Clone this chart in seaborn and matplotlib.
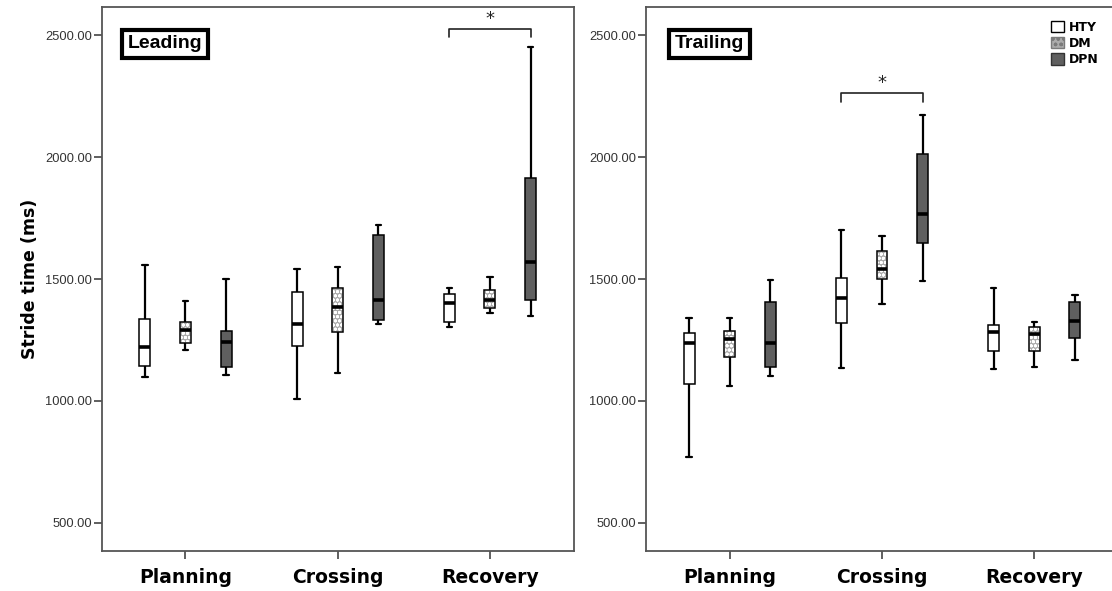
import numpy as np
import pandas as pd
import seaborn as sns
import matplotlib.pyplot as plt
from matplotlib.patches import Patch, PathPatch

phases = ['Planning', 'Crossing', 'Recovery']
groups = ['HTY', 'DM', 'DPN']
yticks = [500, 1000, 1500, 2000, 2500]

# five-number summaries in ms (whisker low, Q1, median, Q3, whisker high),
# order: Planning HTY/DM/DPN, Crossing HTY/DM/DPN, Recovery HTY/DM/DPN
leading_low = [1097, 1210, 1107, 1008, 1113, 1316, 1305, 1359, 1348]
leading_q1 = [1145, 1236, 1139, 1227, 1283, 1333, 1322, 1380, 1414]
leading_med = [1220, 1291, 1241, 1314, 1385, 1414, 1400, 1415, 1568]
leading_q3 = [1336, 1324, 1287, 1445, 1464, 1680, 1437, 1455, 1913]
leading_high = [1557, 1411, 1501, 1540, 1550, 1722, 1464, 1507, 2452]

trailing_low = [769, 1061, 1102, 1134, 1396, 1492, 1130, 1138, 1168]
trailing_q1 = [1068, 1182, 1141, 1321, 1499, 1649, 1206, 1206, 1260]
trailing_med = [1238, 1254, 1236, 1421, 1541, 1765, 1283, 1273, 1327]
trailing_q3 = [1277, 1287, 1407, 1505, 1616, 2011, 1311, 1302, 1407]
trailing_high = [1339, 1339, 1496, 1700, 1675, 2172, 1462, 1322, 1434]

# significance brackets: (phase, bar height, end height, star height)
leading_sig = ('Recovery', 2525, 2492, 2566)
trailing_sig = ('Crossing', 2262, 2225, 2303)

dm_fill = '#ababab'
group_fill = {'HTY': 'white', 'DM': dm_fill, 'DPN': '#5f5f5f'}


def long_table(low, q1, med, q3, high):
    rows = []
    i = 0
    for ph in phases:
        for g in groups:
            for v in (low[i], q1[i], med[i], q3[i], high[i]):
                rows.append({'phase': ph, 'group': g, 'ms': v})
            i += 1
    return pd.DataFrame(rows)


def draw_panel(ax, df, title, sig):
    sns.boxplot(data=df, x='phase', y='ms', hue='group', order=phases,
                hue_order=groups, palette=group_fill, width=0.8, gap=0.73,
                whis=np.inf, linecolor='black', linewidth=1.1, legend=False,
                medianprops=dict(linewidth=2.6),
                whiskerprops=dict(linewidth=1.6),
                capprops=dict(linewidth=1.6), ax=ax)

    # dotted pattern for the DM boxes
    for p in list(ax.patches):
        if np.allclose(p.get_facecolor()[:3], plt.matplotlib.colors.to_rgb(dm_fill)):
            p.set_edgecolor('white')
            p.set_hatch('oooo')
            ax.add_patch(PathPatch(p.get_path(), transform=p.get_transform(),
                                   fill=False, ec='black', lw=1.1,
                                   zorder=p.get_zorder() + 0.1))

    # bracket between HTY and DPN
    dodge = 0.8 / 3
    ph, bar_y, end_y, star_y = sig
    xc = phases.index(ph)
    ax.plot([xc - dodge, xc - dodge, xc + dodge, xc + dodge],
            [end_y, bar_y, bar_y, end_y], color='#222222', lw=1.2)
    ax.text(xc, star_y, '*', ha='center', va='center', fontsize=13,
            color='#222222')

    ax.text(0.134, 0.932, title, transform=ax.transAxes, ha='center',
            va='center', fontsize=14, fontweight='bold', color='black',
            family='Liberation Sans',
            bbox=dict(boxstyle='square,pad=0.3', fc='white', ec='black', lw=3))

    ax.set_xlim(-0.55, 2.55)
    ax.set_ylim(385, 2615)
    ax.set_yticks(yticks)
    ax.set_yticklabels([f'{t:.2f}' for t in yticks])
    ax.set_xlabel('')
    ax.set_ylabel('')
    ax.tick_params(axis='both', direction='out', length=6, width=1.2,
                   color='#444444', left=True, bottom=True)
    ax.tick_params(axis='y', labelsize=9.3, labelcolor='#333333', pad=1)
    ax.tick_params(axis='x', labelcolor='black', pad=6)
    for lab in ax.get_yticklabels():
        lab.set_family('Liberation Sans')
    for lab in ax.get_xticklabels():
        lab.set_fontsize(13.5)
        lab.set_fontweight('bold')
    for s in ax.spines.values():
        s.set_color('#555555')
        s.set_linewidth(1.3)


sns.set_style('white')
plt.rcParams['font.family'] = ['DejaVu Sans']
plt.rcParams['hatch.linewidth'] = 1.0
plt.rcParams['text.color'] = 'black'
plt.rcParams['axes.labelcolor'] = 'black'

fig = plt.figure(figsize=(11.12, 5.91), dpi=100)
ax1 = fig.add_axes([101.7 / 1112, 40 / 591, 472 / 1112, 544 / 591])
ax2 = fig.add_axes([646 / 1112, 40 / 591, 472 / 1112, 544 / 591])

draw_panel(ax1, long_table(leading_low, leading_q1, leading_med,
                           leading_q3, leading_high), 'Leading', leading_sig)
draw_panel(ax2, long_table(trailing_low, trailing_q1, trailing_med,
                           trailing_q3, trailing_high), 'Trailing', trailing_sig)

ax1.set_ylabel('Stride time (ms)', fontsize=12.5, fontweight='bold', labelpad=4)

handles = [Patch(facecolor='white', edgecolor='black'),
           Patch(facecolor=dm_fill, edgecolor='#7a7a7a', hatch='ooo'),
           Patch(facecolor='#5f5f5f', edgecolor='#333333')]
fig.legend(handles, groups, loc='upper left',
           bbox_to_anchor=(1051 / 1112, 1 - 21 / 591), frameon=False,
           prop=dict(size=9, weight='bold'), handlelength=1.0,
           handleheight=1.0, labelspacing=0.25, handletextpad=0.4,
           borderpad=0, borderaxespad=0)

fig.savefig('out.png', dpi=100)
